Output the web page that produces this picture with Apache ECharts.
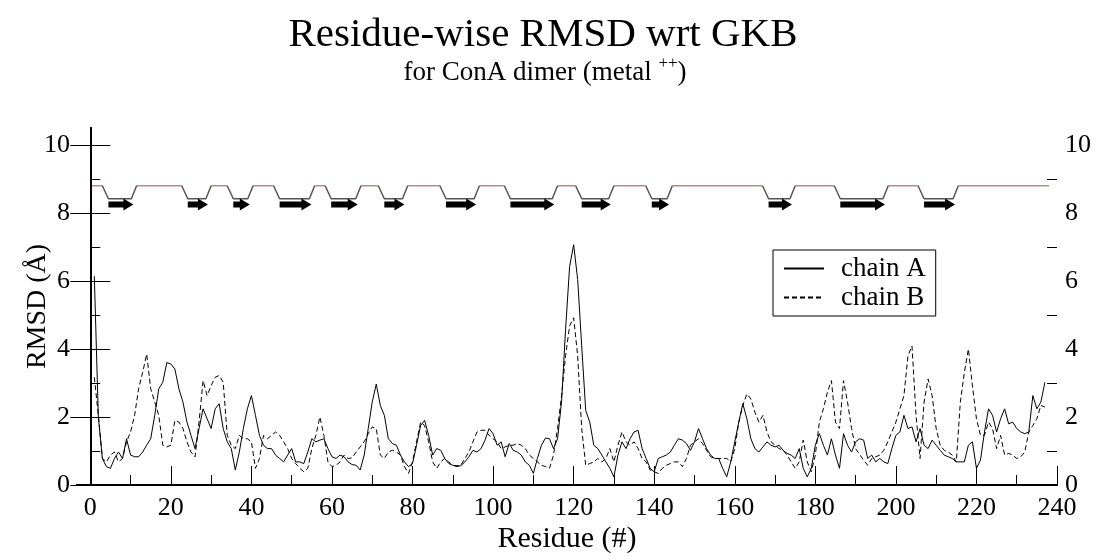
<!DOCTYPE html>
<html>
<head>
<meta charset="utf-8">
<script src="https://cdn.jsdelivr.net/npm/echarts@6/dist/echarts.min.js"></script>
<style>
html,body{margin:0;padding:0;background:#fff;}
#chart{width:1101px;height:559px;}
</style>
</head>
<body>
<div id="chart"></div>
<script>
// ---------- data ----------
const chainA = [6.14,2.0,0.78,0.54,0.49,0.78,0.97,0.78,1.36,0.88,
0.83,0.83,0.97,1.17,1.36,2.05,2.83,3.02,3.6,3.56,
3.41,2.83,2.44,1.85,1.46,1.07,1.66,2.24,1.95,1.66,
2.24,2.39,1.66,1.27,1.07,0.44,0.97,1.66,2.24,2.63,
2.05,1.46,1.17,1.07,1.07,0.88,0.78,0.68,0.88,1.07,
0.68,0.68,0.63,0.97,1.36,1.27,1.32,1.36,1.07,0.83,
0.78,0.88,0.83,0.68,0.6,0.58,0.44,0.88,1.66,2.44,
2.97,2.34,2.05,1.36,1.22,1.17,0.88,0.68,0.54,0.63,
1.17,1.75,1.9,1.46,0.88,1.07,1.02,0.78,0.63,0.58,
0.54,0.57,0.68,0.83,1.02,0.97,1.07,1.32,1.66,1.51,
1.17,1.27,0.83,1.22,1.02,0.97,0.88,0.68,0.58,0.34,
0.78,1.17,1.38,1.36,1.07,1.36,2.44,4.58,6.43,7.07,
6.04,4.09,2.19,1.85,1.17,1.07,0.88,0.68,0.49,0.24,
0.88,1.27,1.07,1.36,1.56,1.61,1.07,0.78,0.49,0.39,
0.78,0.83,0.88,0.97,1.17,1.36,1.32,1.22,1.02,1.27,
1.66,1.36,1.07,0.88,0.78,0.78,0.49,0.24,0.68,1.27,
1.85,2.39,1.95,1.36,1.07,0.97,1.12,1.27,1.17,1.12,
1.17,1.02,0.93,0.88,0.78,1.07,0.49,0.24,0.49,1.17,
1.51,1.17,0.88,1.36,0.88,0.49,1.51,1.17,0.97,1.27,
1.36,1.32,0.78,0.88,0.68,0.78,0.68,0.63,1.07,1.46,
1.56,2.05,1.66,1.71,1.27,1.66,1.17,1.07,1.32,1.17,
1.02,0.88,0.83,0.78,0.68,0.68,0.68,1.17,1.27,0.49,
0.73,1.56,2.24,2.05,1.56,1.95,2.24,1.8,1.85,1.66,
1.56,1.51,1.56,2.63,2.24,2.44,3.02];

const chainB = [3.17,2.05,0.78,0.68,0.88,0.97,0.68,0.78,1.27,1.56,
2.05,2.83,3.31,3.85,2.83,2.44,2.05,1.17,1.12,1.17,
1.9,1.85,1.66,1.27,0.97,0.83,1.85,3.07,2.63,2.92,
3.17,3.22,3.02,1.46,1.17,1.07,1.46,1.36,1.36,1.27,
0.49,0.78,1.46,1.36,1.46,1.56,1.46,1.27,1.07,0.78,
0.63,0.49,0.39,0.49,1.07,1.46,2.0,1.46,0.68,0.54,
0.58,0.68,0.88,0.78,0.8,0.97,1.12,1.27,1.51,1.71,
1.66,0.88,0.78,0.97,1.02,0.97,0.88,0.54,0.34,0.68,
1.27,1.85,1.75,1.27,0.68,0.49,0.68,0.78,0.68,0.58,
0.57,0.58,0.78,0.97,1.27,1.56,1.61,1.61,1.46,1.36,
1.27,1.07,1.12,1.17,1.17,1.22,1.17,1.07,0.88,0.78,
0.68,0.58,0.54,0.49,0.88,1.66,2.63,3.8,4.68,4.92,
3.8,1.66,0.58,0.63,0.68,0.78,0.68,0.78,1.07,0.68,
1.17,1.56,1.27,1.17,1.27,1.07,0.78,0.68,0.44,0.39,
0.34,0.49,0.58,0.63,0.68,0.68,0.54,0.78,1.17,1.27,
1.36,1.22,1.02,0.83,0.78,0.78,0.78,0.78,0.68,1.07,
1.85,2.34,2.68,2.53,2.14,1.85,2.05,1.56,1.27,1.17,
1.07,1.02,0.88,0.68,0.49,0.68,1.32,0.68,0.39,0.88,
1.85,2.24,2.73,3.07,1.85,1.66,3.07,2.44,1.66,1.07,
0.9,0.73,0.58,0.78,0.83,0.88,1.02,1.27,1.56,1.85,
2.24,2.63,3.8,4.09,2.05,0.78,2.44,3.12,2.63,1.66,
1.17,1.02,0.97,0.88,0.68,2.44,3.31,4.0,2.92,1.95,
1.46,1.46,1.85,1.66,1.07,1.46,0.88,0.93,0.88,0.78,
0.83,0.97,1.56,1.75,1.95,2.34,2.29];

// beta-strand extents (residue numbers)
const strandStart = [4.5, 24.2, 35.5, 47, 59.8, 73, 88.3, 104.3, 122, 139.4, 168.4, 186.2, 207];
const strandEnd   = [10.7, 29.2, 39.6, 54.9, 66.4, 78, 95.8, 115.2, 129.2, 143.7, 174.2, 197.3, 214.7];
const trackRange = [0.4, 238];

const xMajorTicks = [0,20,40,60,80,100,120,140,160,180,200,220,240];
const xMinorTicks = [10,30,50,70,90,110,130,150,170,190,210,230];
const yMajorTicks = [0,2,4,6,8,10];
const yMinorTicks = [1,3,5,7,9];

const seriesNames = ['chain A','chain B'];
const titleText = 'Residue-wise RMSD wrt GKB';
const xName = 'Residue (#)';
const yName = 'RMSD (Å)';

// ---------- layout constants ----------
const FONT = 'Liberation Serif';
const X_MIN = -3.3, X_MAX = 240, Y_MIN = 0, Y_MAX = 10.5;
const COIL_LEVEL = 8.8, STRAND_LEVEL = 8.42, ARROW_LEVEL = 8.25;

const residues = chainA.map((_, i) => i + 1);
const dataA = residues.map((r, i) => [r, chainA[i]]);
const dataB = residues.map((r, i) => [r, chainB[i]]);

// secondary-structure track
const topSeg = [];
const dipSeg = [];
let cur = trackRange[0];
strandStart.forEach((s, i) => {
  const e = strandEnd[i];
  topSeg.push([cur, COIL_LEVEL], [s - 1.5, COIL_LEVEL], ['-', '-']);
  dipSeg.push([s - 1.5, COIL_LEVEL], [s, STRAND_LEVEL], [e - 0.5, STRAND_LEVEL], [e + 0.8, COIL_LEVEL], ['-', '-']);
  cur = e + 0.8;
});
topSeg.push([cur, COIL_LEVEL], [trackRange[1], COIL_LEVEL]);
const arrows = strandStart.map((s, i) => [s, strandEnd[i], ARROW_LEVEL]);

const black = '#000';
const labelStyle = { color: black, fontFamily: FONT, fontSize: 26 };

function xAxisDef(opts) {
  return Object.assign({
    type: 'value', min: X_MIN, max: X_MAX, position: 'bottom',
    splitLine: { show: false },
    axisLine: { show: false },
    axisTick: { show: false },
    axisLabel: { show: false }
  }, opts);
}
function yAxisDef(opts) {
  return Object.assign({
    type: 'value', min: Y_MIN, max: Y_MAX,
    splitLine: { show: false },
    axisLine: { show: false },
    axisTick: { show: false },
    axisLabel: { show: false }
  }, opts);
}

const chart = echarts.init(document.getElementById('chart'), null, { renderer: 'canvas' });
chart.setOption({
  backgroundColor: '#fff',
  animation: false,
  grid: { left: 77, right: 44, top: 128, bottom: 72, containLabel: false },
  graphic: [
    { type: 'text', x: 543, y: 15, z: 10,
      style: { text: titleText, fill: black, font: '41px "Liberation Serif"', textAlign: 'center', textVerticalAlign: 'top' } },
    { type: 'text', x: 545, y: 55, z: 10,
      style: {
        text: '{a|for ConA dimer (metal }{s|++}{a|)}',
        textAlign: 'center', textVerticalAlign: 'top',
        rich: {
          a: { fontFamily: FONT, fontSize: 27, lineHeight: 31, fill: black, verticalAlign: 'bottom' },
          s: { fontFamily: FONT, fontSize: 17, lineHeight: 31, fill: black, verticalAlign: 'top', padding: [0, 0, 14, 0] }
        }
      } }
  ],
  legend: {
    data: seriesNames,
    orient: 'vertical',
    left: 773, top: 250,
    padding: [5, 10, 5, 10],
    itemWidth: 40, itemHeight: 14, itemGap: 2,
    borderColor: black, borderWidth: 1, borderRadius: 0,
    backgroundColor: '#fff',
    itemStyle: { opacity: 0, borderWidth: 0 },
    textStyle: { color: black, fontFamily: FONT, fontSize: 27, lineHeight: 27, padding: [0, 0, 0, 12] }
  },
  xAxis: [
    xAxisDef({
      axisLine: { show: true, lineStyle: { color: black, width: 2 } },
      axisTick: { show: true, inside: true, length: 19, customValues: xMajorTicks, lineStyle: { color: black, width: 1 } },
      axisLabel: Object.assign({ show: true, margin: 10, customValues: xMajorTicks }, labelStyle),
      name: xName, nameLocation: 'middle', nameGap: 39, nameMoveOverlap: false,
      nameTextStyle: { color: black, fontFamily: FONT, fontSize: 30 }
    }),
    xAxisDef({
      axisTick: { show: true, inside: true, length: 10, customValues: xMinorTicks, lineStyle: { color: black, width: 1 } }
    }),
    xAxisDef({ position: 'top', axisLine: { show: true, lineStyle: { color: black, width: 2 } } })
  ],
  yAxis: [
    yAxisDef({
      position: 'left',
      axisLine: { show: true, lineStyle: { color: black, width: 2 } },
      axisTick: { show: true, inside: true, length: 20, customValues: yMajorTicks, lineStyle: { color: black, width: 1 } },
      axisLabel: Object.assign({ show: true, margin: 7, customValues: yMajorTicks }, labelStyle),
      name: yName, nameLocation: 'middle', nameGap: 25, nameRotate: 90, nameMoveOverlap: false,
      nameTextStyle: { color: black, fontFamily: FONT, fontSize: 28 }
    }),
    yAxisDef({
      position: 'left',
      axisTick: { show: true, inside: true, length: 10, customValues: yMinorTicks, lineStyle: { color: black, width: 1 } }
    }),
    yAxisDef({
      position: 'right',
      axisLine: { show: true, lineStyle: { color: black, width: 2 } },
      axisTick: { show: true, inside: true, length: 20, customValues: yMajorTicks, lineStyle: { color: black, width: 1 } },
      axisLabel: Object.assign({ show: true, margin: 8, customValues: yMajorTicks }, labelStyle)
    }),
    yAxisDef({
      position: 'right',
      axisTick: { show: true, inside: true, length: 10, customValues: yMinorTicks, lineStyle: { color: black, width: 1 } }
    })
  ],
  series: [
    { name: seriesNames[0], type: 'line', data: dataA, symbol: 'none', showSymbol: false,
      lineStyle: { color: black, width: 1 }, itemStyle: { color: black }, z: 5 },
    { name: seriesNames[1], type: 'line', data: dataB, symbol: 'none', showSymbol: false,
      lineStyle: { color: black, width: 1, type: [5, 3] }, itemStyle: { color: black }, z: 4 },
    { name: 'coil', type: 'line', data: topSeg, symbol: 'none', connectNulls: false,
      lineStyle: { color: '#b88a8a', width: 1.5 }, z: 3, silent: true },
    { name: 'strandTrack', type: 'line', data: dipSeg, symbol: 'none', connectNulls: false,
      lineStyle: { color: '#555', width: 1.5 }, z: 3, silent: true },
    { name: 'strands', type: 'custom', data: arrows, encode: { x: [0, 1], y: 2 }, z: 4, silent: true,
      renderItem: function (params, api) {
        const a = api.coord([api.value(0), api.value(2)]);
        const b = api.coord([api.value(1), api.value(2)]);
        const head = 10, bh = 3, hh = 6;
        const xm = b[0] - head;
        return {
          type: 'polygon',
          shape: { points: [[a[0], a[1] - bh], [xm, a[1] - bh], [xm, a[1] - hh], [b[0], a[1]], [xm, a[1] + hh], [xm, a[1] + bh], [a[0], a[1] + bh]] },
          style: { fill: black }
        };
      } }
  ]
});
</script>
</body>
</html>
